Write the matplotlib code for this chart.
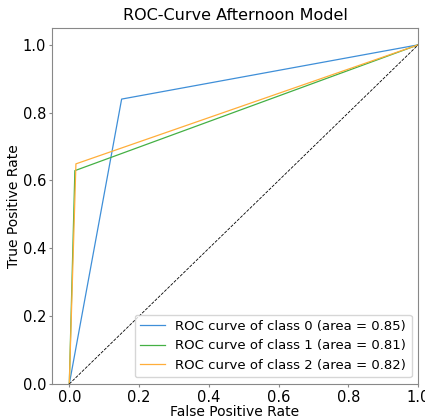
import numpy as np
import matplotlib.pyplot as plt

# ROC points
fpr = {
    0: [0.0, 0.15, 1.0],
    1: [0.0, 0.016, 1.0],
    2: [0.0, 0.019, 1.0],
}
tpr = {
    0: [0.0, 0.84, 1.0],
    1: [0.0, 0.629, 1.0],
    2: [0.0, 0.649, 1.0],
}
roc_auc = [0.85, 0.81, 0.82]
colors = ['#3f8fd8', '#44b044', '#ffae3a']

fig = plt.figure(figsize=(4.25, 4.16), dpi=100)
ax = fig.add_axes([0.122, 0.077, 0.862, 0.856])

for i in range(3):
    ax.plot(fpr[i], tpr[i], color=colors[i], lw=0.9,
            label='ROC curve of class {0} (area = {1:0.2f})'.format(i, roc_auc[i]))

ax.plot([0, 1], [0, 1], 'k--', lw=0.6)
ax.set_xlim([-0.05, 1.0])
ax.set_ylim([0.0, 1.05])
ax.set_xlabel('False Positive Rate', fontsize=10, labelpad=0)
ax.set_ylabel('True Positive Rate', fontsize=10, labelpad=1)
ax.set_title('ROC-Curve Afternoon Model', fontsize=11.5)
ax.tick_params(labelsize=10.5, color='#888888', length=2.5, pad=1.5)
for s in ax.spines.values():
    s.set_color('#888888')
ax.legend(loc='lower right', fontsize=9.5, handlelength=1.9)

plt.savefig('out.png', dpi=100)
